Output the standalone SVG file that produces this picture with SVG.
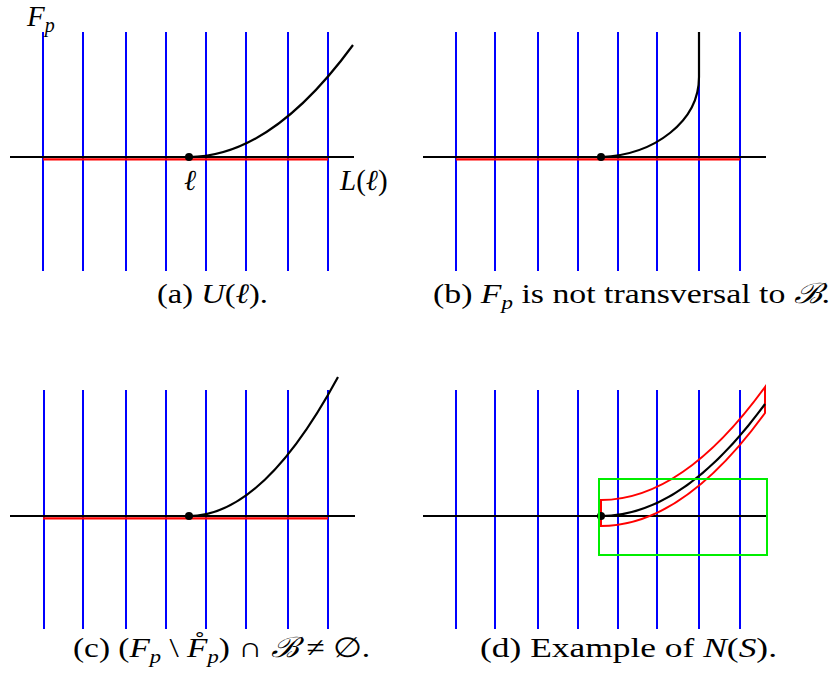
<svg xmlns="http://www.w3.org/2000/svg" width="836" height="674" viewBox="0 0 836 674">
<style>
.blue{stroke:#0000ff;stroke-width:2;fill:none}
.axis{stroke:#000;stroke-width:2;fill:none}
.red{stroke:#ff0000;stroke-width:2.2;fill:none}
.curve{stroke:#000;stroke-width:2.2;fill:none}
.band{stroke:#ff0000;stroke-width:2;fill:none}
.green{stroke:#00ee00;stroke-width:2;fill:none}
.txt{font-family:"Liberation Serif","DejaVu Serif",serif;font-size:28px;fill:#000}
.m{font-style:italic}
.lbl{font-family:"Liberation Serif","DejaVu Serif",serif;font-size:29px;font-style:italic;fill:#000}
</style>
<g id="panel-a">
  <g id="a-leaves">
    <line class="blue" x1="43" y1="32" x2="43" y2="271"/>
    <line class="blue" x1="83" y1="32" x2="83" y2="271"/>
    <line class="blue" x1="126" y1="32" x2="126" y2="271"/>
    <line class="blue" x1="166" y1="32" x2="166" y2="271"/>
    <line class="blue" x1="206" y1="32" x2="206" y2="271"/>
    <line class="blue" x1="246" y1="32" x2="246" y2="271"/>
    <line class="blue" x1="288" y1="32" x2="288" y2="271"/>
    <line class="blue" x1="328" y1="32" x2="328" y2="271"/>
  </g>
  <line class="red" x1="43" y1="159.3" x2="328" y2="159.3"/>
  <line class="axis" x1="10" y1="157" x2="354" y2="157"/>
  <path class="curve" d="M189,157 Q271,157 353,45"/>
  <circle cx="189" cy="157" r="4" fill="#000"/>
  <text class="lbl" x="27" y="26">F<tspan font-size="20" dy="6">p</tspan></text>
  <text class="lbl" x="190" y="190" text-anchor="middle" font-size="28">ℓ</text>
  <text class="lbl" x="340" y="190" font-size="28">L<tspan font-style="normal">(</tspan>ℓ<tspan font-style="normal">)</tspan></text>
  <text class="txt" x="157" y="303" textLength="111" lengthAdjust="spacingAndGlyphs">(a) <tspan class="m">U</tspan>(<tspan class="m">ℓ</tspan>).</text>
</g>
<g id="panel-b">
  <g id="b-leaves">
    <line class="blue" x1="456" y1="32" x2="456" y2="271"/>
    <line class="blue" x1="495" y1="32" x2="495" y2="271"/>
    <line class="blue" x1="538" y1="32" x2="538" y2="271"/>
    <line class="blue" x1="578" y1="32" x2="578" y2="271"/>
    <line class="blue" x1="618" y1="32" x2="618" y2="271"/>
    <line class="blue" x1="657" y1="32" x2="657" y2="271"/>
    <line class="blue" x1="699" y1="32" x2="699" y2="271"/>
    <line class="blue" x1="740" y1="32" x2="740" y2="271"/>
  </g>
  <line class="red" x1="456" y1="159.3" x2="740" y2="159.3"/>
  <line class="axis" x1="423" y1="157" x2="766" y2="157"/>
  <path class="curve" d="M601,157 C655,155 699,121 699,77 L699,32"/>
  <circle cx="601" cy="157" r="4" fill="#000"/>
  <text class="txt" x="433" y="303" textLength="397" lengthAdjust="spacingAndGlyphs">(b) <tspan class="m">F</tspan><tspan class="m" font-size="19" dy="6">p</tspan><tspan dy="-6"> is not transversal to </tspan><tspan class="m">ℬ</tspan>.</text>
</g>
<g id="panel-c">
  <g id="c-leaves">
    <line class="blue" x1="44" y1="390" x2="44" y2="629"/>
    <line class="blue" x1="83" y1="390" x2="83" y2="629"/>
    <line class="blue" x1="126" y1="390" x2="126" y2="629"/>
    <line class="blue" x1="166" y1="390" x2="166" y2="629"/>
    <line class="blue" x1="206" y1="390" x2="206" y2="629"/>
    <line class="blue" x1="246" y1="390" x2="246" y2="629"/>
    <line class="blue" x1="288" y1="390" x2="288" y2="629"/>
    <line class="blue" x1="328" y1="390" x2="328" y2="629"/>
  </g>
  <line class="red" x1="43" y1="518.3" x2="328" y2="518.3"/>
  <line class="axis" x1="10" y1="516" x2="355" y2="516"/>
  <path class="curve" d="M189,516 Q263,516 338,377"/>
  <circle cx="189" cy="516" r="4" fill="#000"/>
  <text class="txt" x="73" y="657" textLength="297" lengthAdjust="spacingAndGlyphs">(c) (<tspan class="m">F</tspan><tspan class="m" font-size="19" dy="6">p</tspan><tspan dy="-6"> \ </tspan><tspan class="m">F̊</tspan><tspan class="m" font-size="19" dy="6">p</tspan><tspan dy="-6">) ∩ </tspan><tspan class="m">ℬ</tspan> ≠ ∅.</text>
</g>
<g id="panel-d">
  <g id="d-leaves">
    <line class="blue" x1="456" y1="390" x2="456" y2="629"/>
    <line class="blue" x1="495" y1="390" x2="495" y2="629"/>
    <line class="blue" x1="538" y1="390" x2="538" y2="629"/>
    <line class="blue" x1="578" y1="390" x2="578" y2="629"/>
    <line class="blue" x1="618" y1="390" x2="618" y2="629"/>
    <line class="blue" x1="657" y1="390" x2="657" y2="629"/>
    <line class="blue" x1="699" y1="390" x2="699" y2="629"/>
    <line class="blue" x1="740" y1="390" x2="740" y2="629"/>
  </g>
  <line class="axis" x1="423" y1="516" x2="766" y2="516"/>
  <path class="band" d="M601,500 Q683,500 765,387 L765,413 Q683,526 601,526 Z"/>
  <path class="curve" d="M601,516 Q683,516 765,404"/>
  <circle cx="601" cy="516" r="4" fill="#000"/>
  <rect class="green" x="599" y="479" width="168" height="76"/>
  <text class="txt" x="480" y="657" textLength="297" lengthAdjust="spacingAndGlyphs">(d) Example of <tspan class="m">N</tspan>(<tspan class="m">S</tspan>).</text>
</g>
</svg>
